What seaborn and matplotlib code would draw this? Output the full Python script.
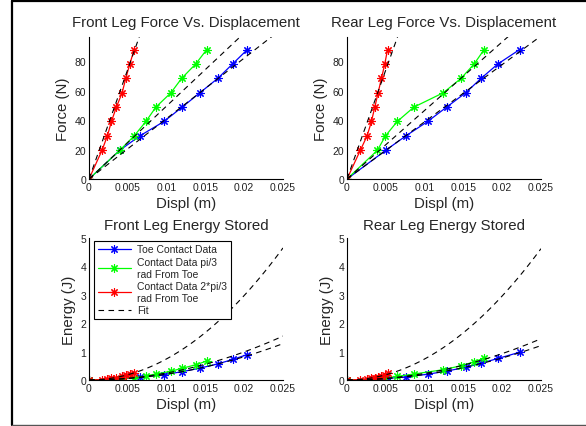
import numpy as np
import pandas as pd
import matplotlib
matplotlib.use('Agg')
import matplotlib.pyplot as plt
import seaborn as sns
from matplotlib.lines import Line2D

# applied loads (N)
force = [0, 19.5, 29.25, 39, 48.75, 58.5, 68.25, 78, 87.75]

# front leg displacement (m)
front_toe = [0, 0.00397, 0.00655, 0.00966, 0.0120, 0.0143, 0.0166, 0.0185, 0.0204]
front_pi3 = [0, 0.00397, 0.00582, 0.00733, 0.00862, 0.01056, 0.01194, 0.01375, 0.01517]
front_2pi3 = [0, 0.00168, 0.00237, 0.00289, 0.00353, 0.00427, 0.00474, 0.00526, 0.00582]

# rear leg displacement (m)
rear_toe = [0, 0.0050, 0.00759, 0.01039, 0.01284, 0.0153, 0.01728, 0.01944, 0.02224]
rear_pi3 = [0, 0.00392, 0.00496, 0.00647, 0.00862, 0.01241, 0.0147, 0.01638, 0.01767]
rear_2pi3 = [0, 0.00172, 0.00259, 0.00315, 0.00358, 0.00401, 0.00444, 0.00487, 0.00522]

# stored energy (J)
front_toe_e = [0, 0.039, 0.096, 0.188, 0.293, 0.418, 0.567, 0.722, 0.895]
front_pi3_e = [0, 0.039, 0.085, 0.143, 0.210, 0.309, 0.408, 0.536, 0.666]
front_2pi3_e = [0, 0.016, 0.035, 0.056, 0.086, 0.125, 0.162, 0.205, 0.255]
rear_toe_e = [0, 0.049, 0.111, 0.203, 0.313, 0.448, 0.590, 0.758, 0.976]
rear_pi3_e = [0, 0.038, 0.073, 0.126, 0.210, 0.363, 0.502, 0.639, 0.775]
rear_2pi3_e = [0, 0.017, 0.038, 0.061, 0.087, 0.117, 0.152, 0.190, 0.229]

# fitted stiffness (N/m): toe, pi/3, 2*pi/3
front_k = [4100, 4950, 14880]
rear_k = [3880, 4650, 14800]

labels = ['Toe Contact Data', 'Contact Data pi/3\nrad From Toe',
          'Contact Data 2*pi/3\nrad From Toe', 'Fit']
colors = ['#0000ff', '#00ff00', '#ff0000']
xticks = [0, 0.005, 0.01, 0.015, 0.02, 0.025]
xticklabels = ['0', '0.005', '0.01', '0.015', '0.02', '0.025']

STAR = (8, 2, 0)  # matlab-style asterisk
MARK = dict(marker=STAR, markersize=6, markeredgewidth=0.8)

sns.set_style('white')
plt.rcParams['font.family'] = ['Liberation Sans', 'DejaVu Sans']

fig = plt.figure(figsize=(5.86, 4.27), dpi=100)
W, H = 586, 427


def make_ax(x0, y0, x1, y1):
    return fig.add_axes([x0 / W, 1 - y1 / H, (x1 - x0) / W, (y1 - y0) / H])


def style(ax, title, ylabel, ylim, yticks, pad):
    ax.set_xlim(0, 0.025)
    ax.set_ylim(*ylim)
    ax.set_xticks(xticks)
    ax.set_xticklabels(xticklabels)
    ax.set_yticks(yticks)
    ax.set_yticklabels([str(t) for t in yticks])
    for s in ['top', 'right']:
        ax.spines[s].set_visible(False)
    for s in ['left', 'bottom']:
        ax.spines[s].set_color('black')
        ax.spines[s].set_linewidth(0.8)
    ax.tick_params(direction='in', length=2.5, width=0.6, labelsize=7.5, pad=2,
                   colors='black', labelcolor='#222222')
    ax.set_title(title, fontsize=10.8, pad=pad)
    ax.set_xlabel('Displ (m)', fontsize=10.8, labelpad=3)
    ax.set_ylabel(ylabel, fontsize=10.8, labelpad=3)
    ax.grid(False)


def draw_force(ax, disps, ks):
    xfit = np.linspace(0, 0.025, 50)
    for d, c in zip(disps, colors):
        df = pd.DataFrame({'x': d, 'y': force})
        sns.lineplot(data=df, x='x', y='y', ax=ax, sort=False, estimator=None,
                     color=c, lw=0.9, markeredgecolor=c, **MARK)
    for k in ks:
        ax.plot(xfit, k * xfit, color='black', lw=0.8, ls=(0, (5, 4)))


def draw_energy(ax, disps, energies, ks):
    xfit = np.linspace(0, 0.025, 100)
    for d, e, c in zip(disps, energies, colors):
        df = pd.DataFrame({'x': d, 'y': e})
        sns.lineplot(data=df, x='x', y='y', ax=ax, sort=False, estimator=None,
                     color=c, lw=0.9, markeredgecolor=c, **MARK)
    for k in ks:
        ax.plot(xfit, 0.5 * k * xfit ** 2, color='black', lw=0.8, ls=(0, (5, 4)))


ax1 = make_ax(89, 38, 283, 180)
draw_force(ax1, [front_toe, front_pi3, front_2pi3], front_k)
style(ax1, 'Front Leg Force Vs. Displacement', 'Force (N)', (0, 96.3),
      [0, 20, 40, 60, 80], 8)

ax2 = make_ax(347, 38, 541, 180)
draw_force(ax2, [rear_toe, rear_pi3, rear_2pi3], rear_k)
style(ax2, 'Rear Leg Force Vs. Displacement', 'Force (N)', (0, 96.3),
      [0, 20, 40, 60, 80], 8)

ax3 = make_ax(89, 239, 283, 381)
draw_energy(ax3, [front_toe, front_pi3, front_2pi3],
            [front_toe_e, front_pi3_e, front_2pi3_e], front_k)
style(ax3, 'Front Leg Energy Stored', 'Energy (J)', (0, 5), [0, 1, 2, 3, 4, 5], 6.5)

ax4 = make_ax(347, 239, 541, 381)
draw_energy(ax4, [rear_toe, rear_pi3, rear_2pi3],
            [rear_toe_e, rear_pi3_e, rear_2pi3_e], rear_k)
style(ax4, 'Rear Leg Energy Stored', 'Energy (J)', (0, 5), [0, 1, 2, 3, 4, 5], 6.5)

handles = [Line2D([], [], color=c, lw=0.9, markeredgecolor=c, **MARK) for c in colors]
handles.append(Line2D([], [], color='black', lw=0.8, ls=(0, (5, 4))))
leg = ax3.legend(handles, labels, loc='upper left', bbox_to_anchor=(0.026, 0.98),
                 borderaxespad=0, fontsize=7.5, frameon=True, fancybox=False,
                 framealpha=1, handlelength=3.2, handletextpad=0.6,
                 labelspacing=0.25, borderpad=0.35)
leg.get_frame().set_edgecolor('black')
leg.get_frame().set_linewidth(0.8)

# outer frame of the original figure (right side cropped)
fig.add_artist(Line2D([11.5 / W, 11.5 / W], [1 - 2 / H, 1 - 426 / H], color='black', lw=1.6))
fig.add_artist(Line2D([11.5 / W, 1.0], [1 - 2 / H, 1 - 2 / H], color='black', lw=1.6))
fig.add_artist(Line2D([11.5 / W, 1.0], [1 - 426 / H, 1 - 426 / H], color='#555555', lw=1.0))

fig.savefig('out.png', dpi=100)
